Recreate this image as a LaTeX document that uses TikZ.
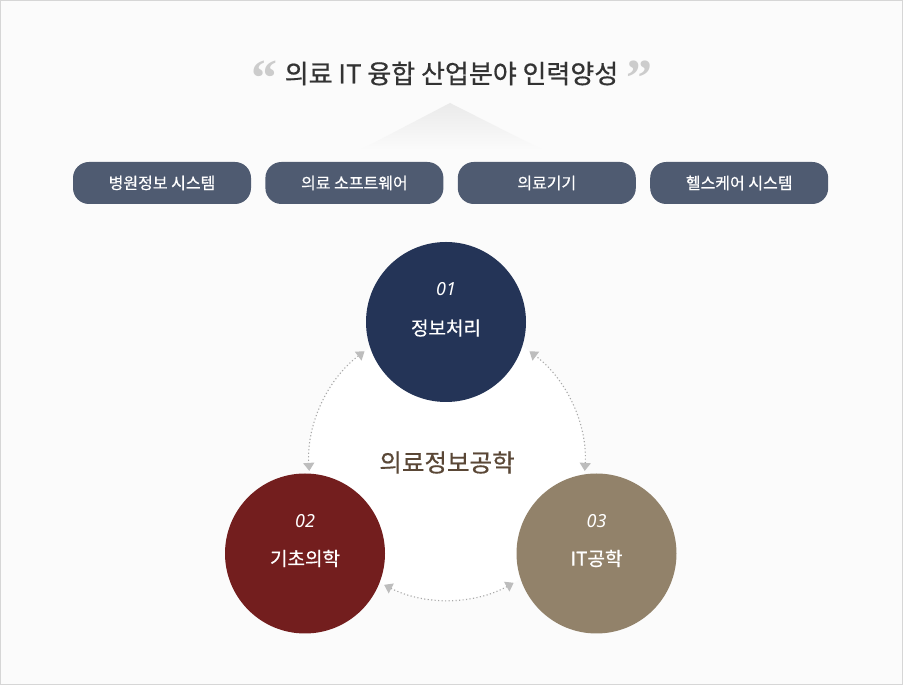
\documentclass[tikz,border=0pt]{standalone}
\usepackage{fontspec}
\setmainfont{Noto Sans CJK KR}
\newfontfamily\medfont{Noto Sans CJK KR}[FakeBold=0.6]
\newfontfamily\quotefont{Liberation Serif}
\newfontfamily\numfont{Noto Sans}
\usetikzlibrary{positioning,arrows.meta}
\definecolor{bggray}{HTML}{FBFBFB}
\definecolor{framegray}{HTML}{D6D6D6}
\definecolor{roofgray}{HTML}{EAEAEA}
\definecolor{titlegray}{HTML}{333333}
\definecolor{quotegray}{HTML}{CCCCCC}
\definecolor{tagblue}{HTML}{4F5B71}
\definecolor{infoblue}{HTML}{243457}
\definecolor{medred}{HTML}{731E1E}
\definecolor{itbrown}{HTML}{92826A}
\definecolor{corebrown}{HTML}{5A4736}
\definecolor{dotgray}{HTML}{A8A8A8}
\definecolor{tipgray}{HTML}{BDBDBD}
\tikzset{
    tag/.style={fill=tagblue, text=white, rounded corners=16pt, minimum width=178pt,
        minimum height=42pt, inner sep=0pt, font=\medfont\fontsize{16}{16}\selectfont},
    disc/.style={circle, minimum size=160pt, inner sep=0pt},
    disctext/.style={text=white, font=\medfont\fontsize{19}{19}\selectfont},
    numtext/.style={text=white, font=\numfont\itshape\fontsize{18}{18}\selectfont},
    quotemark/.style={anchor=north, text=quotegray, font=\quotefont\bfseries\fontsize{52}{52}\selectfont},
    link/.style={draw=dotgray, line width=1.1pt, dash pattern=on 1.1pt off 2.4pt,
        {Triangle[length=8pt,width=11pt,color=tipgray]}-{Triangle[length=8pt,width=11pt,color=tipgray]}},
}
\begin{document}
\begin{tikzpicture}[x=1pt, y=1pt]
    \useasboundingbox (0,0) rectangle (903,685);
    \fill[bggray] (0,0) rectangle (903,685);
    \draw[framegray, line width=1.2pt] (0.6,0.6) rectangle (902.4,684.4); % 外枠
    % タイトル
    \node (title) at (451.5,611.5) [text=titlegray, font=\medfont\fontsize{26}{26}\selectfont] {의료 IT 융합 산업분야 인력양성};
    \node[quotemark] (lquote) at (264,628) {“};
    \node[quotemark] (rquote) at (639,628) {”};
    \shade[top color=roofgray, bottom color=bggray] (450,582) -- (543,535) -- (360,535) -- cycle;
    % 分野
    \node[tag] (hospital) at (162,502) {병원정보 시스템};
    \node[tag, right=14pt of hospital] (software) {의료 소프트웨어};
    \node[tag, right=14pt of software] (device) {의료기기};
    \node[tag, right=14pt of device] (health) {헬스케어 시스템};
    % 中央の円
    \coordinate (hub) at (447,223);
    \fill[white] (hub) circle [radius=138pt];
    \node[disc, fill=infoblue] (info) at (446,363) {};
    \node[disc, fill=medred] (basic) at (305,131.5) {};
    \node[disc, fill=itbrown] (itech) at (596.5,131.5) {};
    \node[numtext] (info-num) at ([yshift=33pt]info.center) {01};
    \node[disctext] (info-name) at ([yshift=-6pt]info.center) {정보처리};
    \node[numtext] (basic-num) at ([yshift=32pt]basic.center) {02};
    \node[disctext] (basic-name) at ([yshift=-5pt]basic.center) {기초의학};
    \node[numtext] (itech-num) at ([yshift=32pt]itech.center) {03};
    \node[disctext] (itech-name) at ([yshift=-5pt]itech.center) {IT공학};
    \node (core) at (447,222.5) [text=corebrown, font=\medfont\fontsize{24.5}{24.5}\selectfont] {의료정보공학};
    % 点線の矢印
    \coordinate (ring-a) at ([shift={(126.7:138pt)}]hub);
    \coordinate (ring-b) at ([shift={(183.7:138pt)}]hub);
    \coordinate (ring-c) at ([shift={(242.9:138pt)}]hub);
    \coordinate (ring-d) at ([shift={(298.9:138pt)}]hub);
    \coordinate (ring-e) at ([shift={(-3.7:138pt)}]hub);
    \coordinate (ring-f) at ([shift={(53.3:138pt)}]hub);
    \draw[link] (ring-a) to[bend right=28.5, looseness=0.9] (ring-b);
    \draw[link] (ring-c) to[bend right=28, looseness=0.9] (ring-d);
    \draw[link] (ring-e) to[bend right=28.5, looseness=0.9] (ring-f);
\end{tikzpicture}
\end{document}
